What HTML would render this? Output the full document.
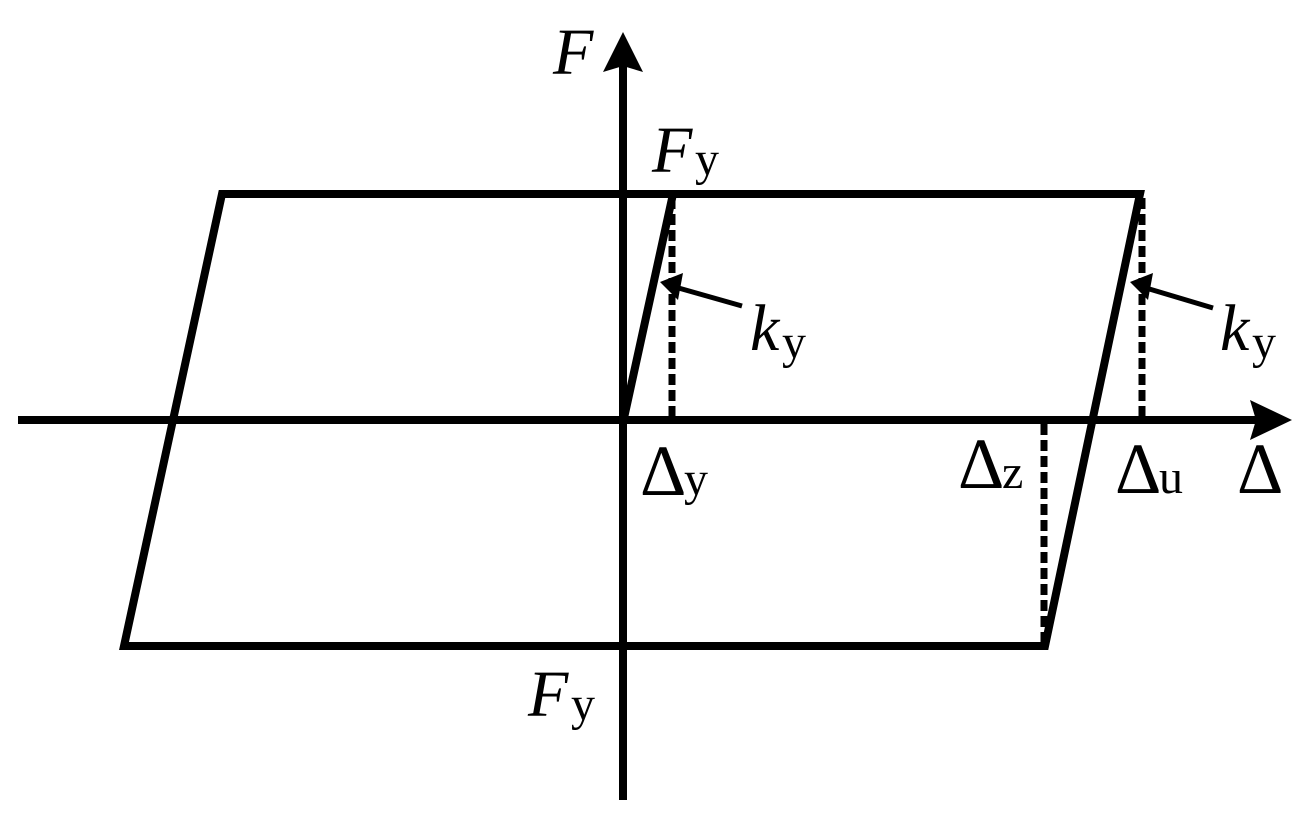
<!DOCTYPE html>
<html><head><style>body{margin:0;background:#fff}svg{display:block}
text{font-family:"Liberation Serif",serif;fill:#000}</style></head><body>
<svg width="1312" height="821" viewBox="0 0 1312 821" xmlns="http://www.w3.org/2000/svg">
<g stroke="#000" stroke-width="8" fill="none">
<line x1="623" y1="60" x2="623" y2="800"/>
<line x1="18" y1="420" x2="1260" y2="420"/>
<polygon points="222,194 1140,194 1045,646 124,646" stroke-linejoin="miter"/>
<line x1="624" y1="418" x2="673" y2="194"/>
<g stroke-dasharray="11,5" stroke-width="7">
<line x1="672" y1="198" x2="672" y2="416"/>
<line x1="1142" y1="198" x2="1142" y2="416"/>
<line x1="1044" y1="424" x2="1044" y2="642"/>
</g>
<g stroke-width="5">
<line x1="742" y1="306" x2="675" y2="287"/>
<line x1="1213" y1="308" x2="1146" y2="288"/>
</g>
</g>
<polygon points="623,32 603,72 623,66 643,72" fill="#000"/>
<polygon points="1292,420 1250,400 1256,420 1250,440" fill="#000"/>
<polygon points="660,282 683,273 678,300" fill="#000"/>
<polygon points="1130,282 1153,273 1148,300" fill="#000"/>
<g font-size="66">
<text x="553" y="74" font-style="italic">F</text>
<text x="652" y="172" font-style="italic">F</text><text x="695" y="175" font-size="48">y</text>
<text x="750" y="350" font-style="italic">k</text><text x="782" y="358" font-size="48">y</text>
<text x="1220" y="350" font-style="italic">k</text><text x="1252" y="358" font-size="48">y</text>
<text x="640" y="495" font-size="72">Δ</text><text x="684" y="495" font-size="48">y</text>
<text x="958" y="488" font-size="72">Δ</text><text x="1002" y="488" font-size="48">z</text>
<text x="1115" y="493" font-size="72">Δ</text><text x="1159" y="493" font-size="48">u</text>
<text x="1237" y="493" font-size="72">Δ</text>
<text x="528" y="716" font-style="italic">F</text><text x="571" y="720" font-size="48">y</text>
</g>
</svg>
</body></html>
